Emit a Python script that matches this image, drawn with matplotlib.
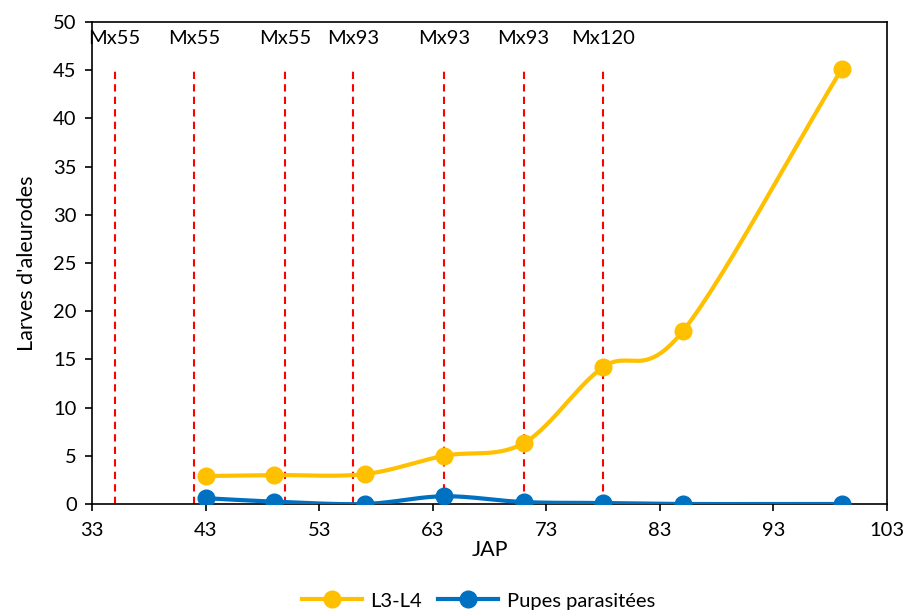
import numpy as np
import matplotlib
matplotlib.use("Agg")
import matplotlib.pyplot as plt

plt.rcParams['font.family'] = ['Lato', 'DejaVu Sans']

jap = [43, 49, 57, 64, 71, 78, 85, 99]
l3l4 = [2.9, 3.0, 3.1, 5.0, 6.3, 14.2, 17.9, 45.1]
pupes = [0.6, 0.25, 0.0, 0.8, 0.2, 0.1, 0.0, 0.0]

treat_x = [35, 42, 50, 56, 64, 71, 78]
treat_labels = ["Mx55", "Mx55", "Mx55", "Mx93", "Mx93", "Mx93", "Mx120"]
treat_top = 45
label_y = 48.3


def smooth(xs, ys, n=30):
    # parametric Catmull-Rom curve through the points (Excel-like smoothing)
    P = np.column_stack([xs, ys]).astype(float)
    P = np.vstack([2 * P[0] - P[1], P, 2 * P[-1] - P[-2]])
    out = []
    t = np.linspace(0, 1, n)[:, None]
    for i in range(1, len(P) - 2):
        p0, p1, p2, p3 = P[i - 1], P[i], P[i + 1], P[i + 2]
        c1 = p1 + (p2 - p0) / 6
        c2 = p2 - (p3 - p1) / 6
        seg = ((1 - t) ** 3) * p1 + 3 * ((1 - t) ** 2) * t * c1 + 3 * (1 - t) * t ** 2 * c2 + t ** 3 * p2
        out.append(seg if i == 1 else seg[1:])
    S = np.vstack(out)
    return S[:, 0], S[:, 1]


fig = plt.figure(figsize=(9.11, 6.12), dpi=100)
ax = fig.add_axes([0.101, 0.1765, 0.8727, 0.7875])

for x in treat_x:
    ax.plot([x, x], [0, treat_top], color='#FF0000', ls=(0, (3.5, 2.5)), lw=1.5, zorder=1)
for x, lab in zip(treat_x, treat_labels):
    ax.text(x, label_y, lab, ha='center', va='center', fontsize=14.5)

yellow = '#FFC000'
blue = '#0070C0'
sx, sy = smooth(jap, l3l4)
ax.plot(sx, sy, color=yellow, lw=3, zorder=3)
ax.plot(jap, l3l4, 'o', color=yellow, ms=12, zorder=4)
sx, sy = smooth(jap, pupes)
ax.plot(sx, sy, color=blue, lw=3, zorder=3)
ax.plot(jap, pupes, 'o', color=blue, ms=12, zorder=4)

h1, = ax.plot([], [], '-o', color=yellow, lw=3, ms=12, label='L3-L4')
h2, = ax.plot([], [], '-o', color=blue, lw=3, ms=12, label='Pupes parasitées')

ax.set_xlim(33, 103)
ax.set_ylim(0, 50)
ax.set_xticks(np.arange(33, 104, 10))
ax.set_yticks(np.arange(0, 51, 5))
ax.tick_params(labelsize=14.5, direction='out', length=5, width=1.2, colors='black')
ax.tick_params(axis='x', pad=8)
ax.tick_params(axis='y', pad=6)
ax.set_xlabel('JAP', fontsize=15.5, labelpad=1)
ax.set_ylabel("Larves d'aleurodes", fontsize=15.5, labelpad=12)
for s in ax.spines.values():
    s.set_linewidth(1.2)
    s.set_color('black')

fig.legend(handles=[h1, h2], loc='center', bbox_to_anchor=(0.525, 0.018), ncol=2,
           frameon=False, fontsize=14.5, handlelength=3, columnspacing=0.8, handletextpad=0.4)

fig.savefig('out.png', dpi=100)
